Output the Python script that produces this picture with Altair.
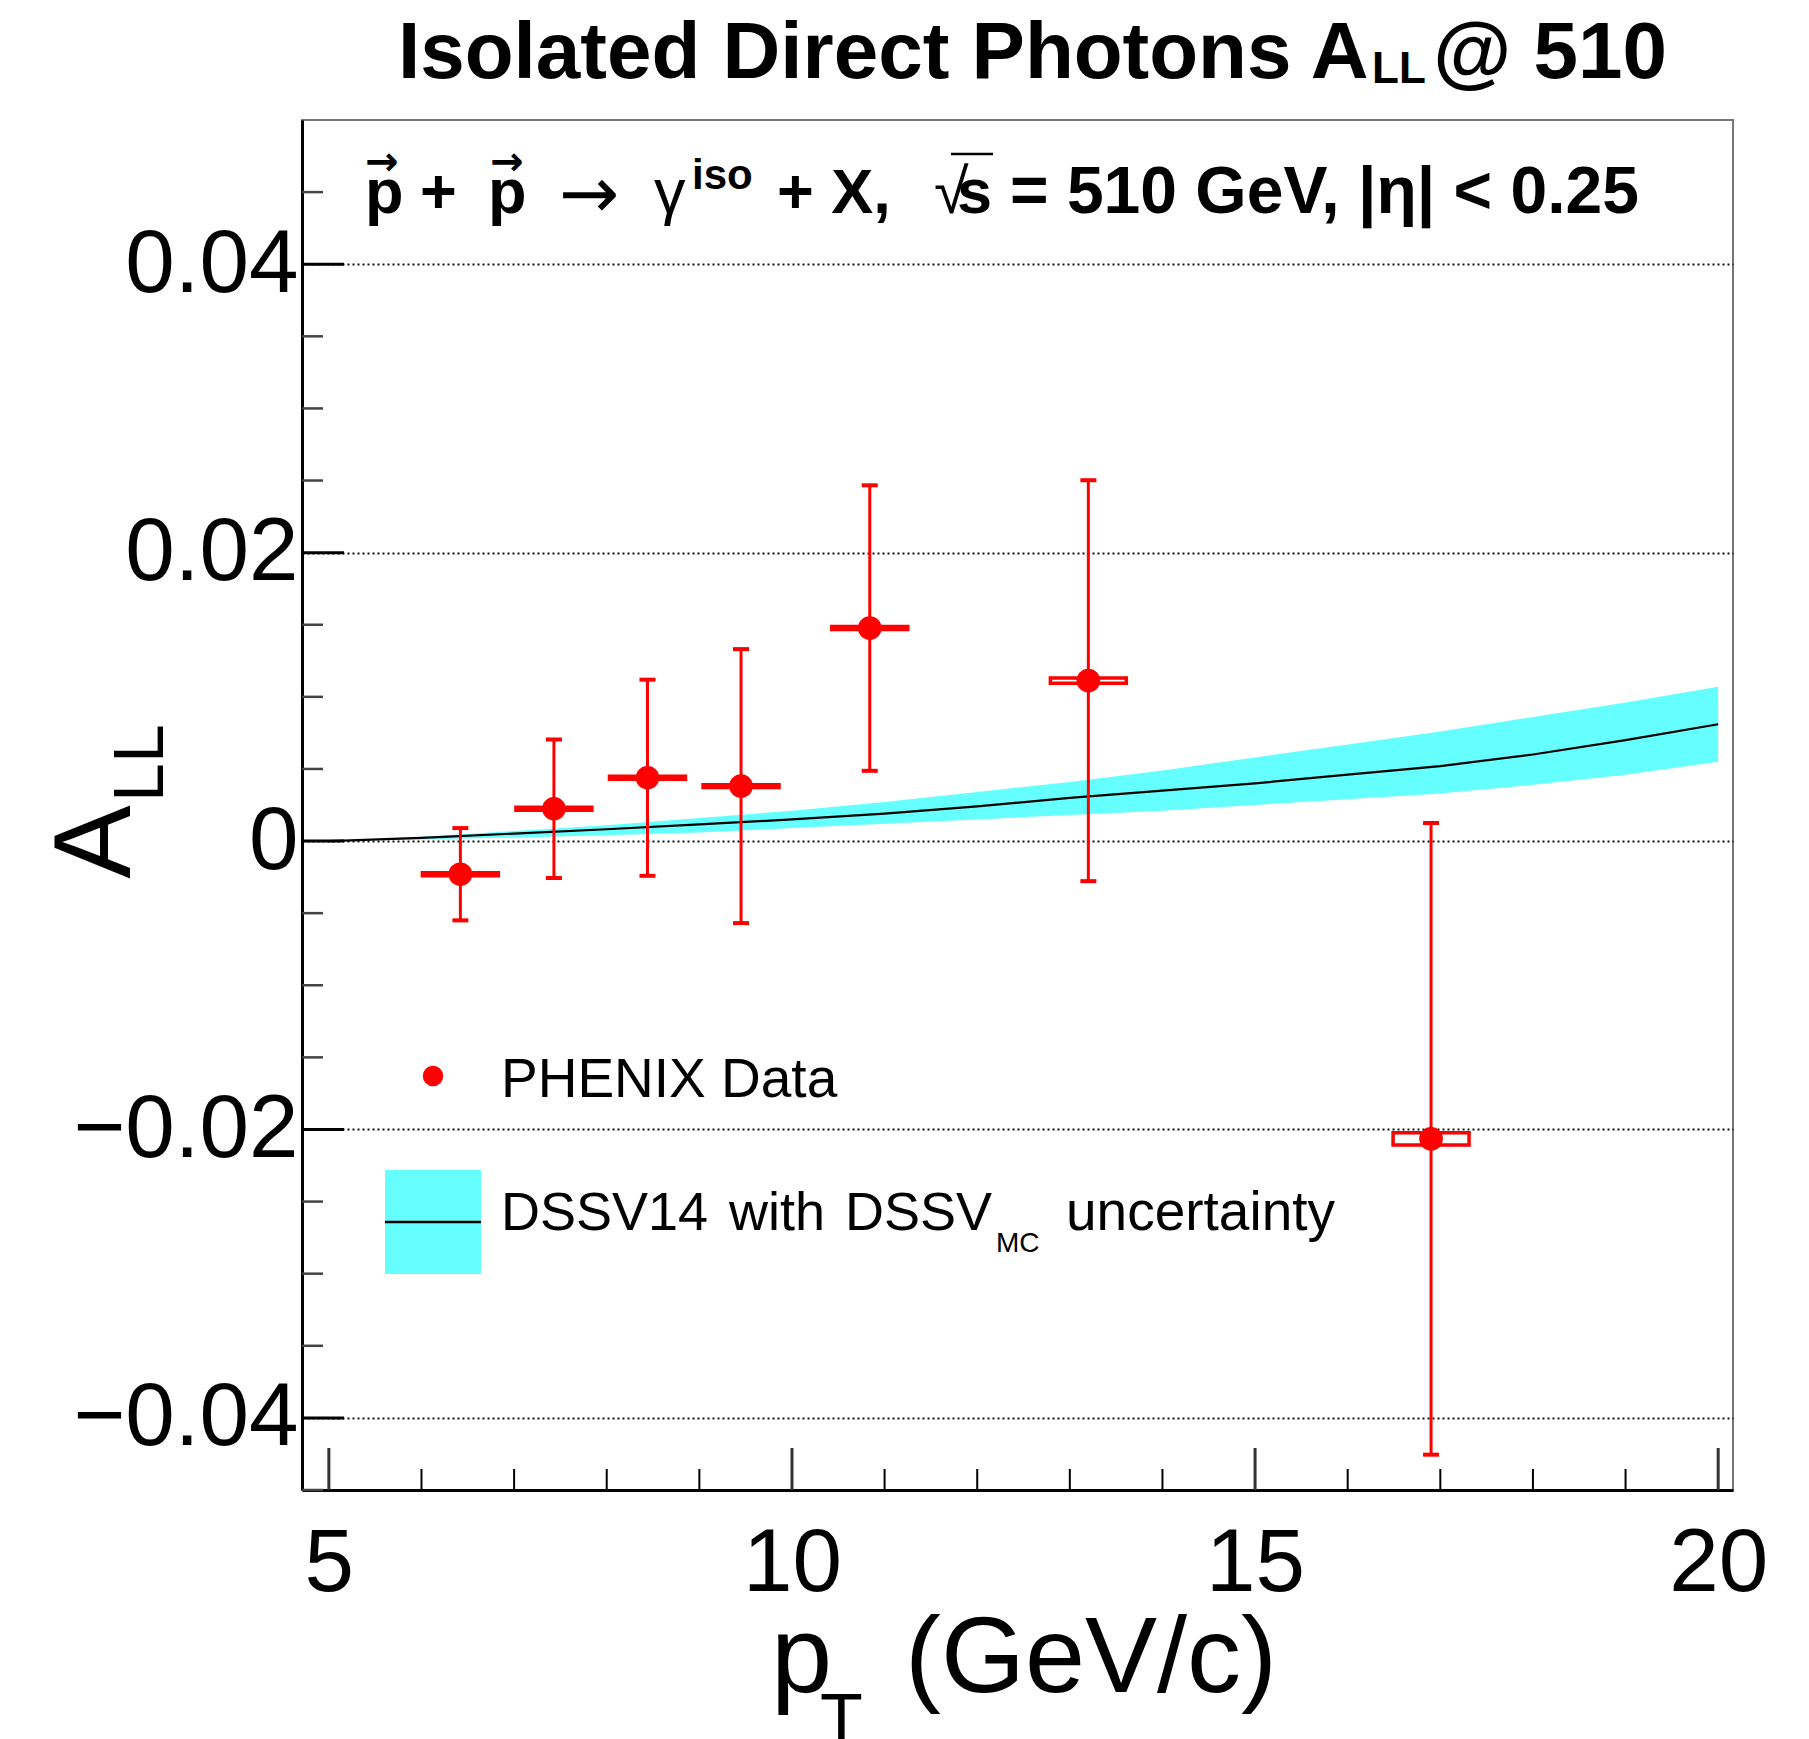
import altair as alt
import pandas as pd

# ---------------- data ----------------
pt = [6.42, 7.43, 8.44, 9.45, 10.84, 13.20, 16.90]
a_ll = [-0.0023, 0.00224, 0.00439, 0.00381, 0.01477, 0.01112, -0.02065]
stat_err = [0.0032, 0.0048, 0.0068, 0.0095, 0.0099, 0.0139, 0.0219]
syst_err = [0.0001, 0.0001, 0.0001, 0.0001, 0.0001, 0.00018, 0.00043]
bin_half = [0.41, 0.41, 0.41, 0.41, 0.41, 0.41, 0.41]

theory_pt = [5, 6, 7, 8, 9, 10, 11, 12, 13, 14, 15, 16, 17, 18, 19, 20]
theory_mid = [0.0, 0.00022, 0.00052, 0.00082, 0.00115, 0.0015, 0.0019, 0.0024,
              0.0030, 0.0035, 0.0040, 0.0046, 0.0052, 0.0060, 0.0070, 0.0081]
theory_lo = [0.0, 0.0001, 0.00025, 0.0004, 0.0006, 0.0009, 0.0012, 0.0015,
             0.0018, 0.0021, 0.0025, 0.0029, 0.0033, 0.0039, 0.0046, 0.0055]
theory_hi = [0.0, 0.0003, 0.0007, 0.0011, 0.0016, 0.0021, 0.0027, 0.0034,
             0.0041, 0.0049, 0.0058, 0.0067, 0.0076, 0.0086, 0.0096, 0.0107]

x_major = [5, 10, 15, 20]
x_minor = [6, 7, 8, 9, 11, 12, 13, 14, 16, 17, 18, 19]
y_major = [-0.04, -0.02, 0.0, 0.02, 0.04]
y_minor = [-0.045, -0.035, -0.03, -0.025, -0.015, -0.01, -0.005,
           0.005, 0.01, 0.015, 0.025, 0.03, 0.035, 0.045]

# ---------------- tables ----------------
pts = pd.DataFrame({"pt": pt, "all": a_ll, "stat": stat_err,
                    "syst": syst_err, "half": bin_half})
pts["lo"] = pts["all"] - pts["stat"]
pts["hi"] = pts["all"] + pts["stat"]
pts["s0"] = pts["all"] - pts["syst"]
pts["s1"] = pts["all"] + pts["syst"]
pts["x0"] = pts["pt"] - pts["half"]
pts["x1"] = pts["pt"] + pts["half"]

th = pd.DataFrame({"pt": theory_pt, "mid": theory_mid,
                   "lo": theory_lo, "hi": theory_hi})

W, H = 1431, 1370
FONT = "Liberation Sans"
RED = "#ff0000"

xs = alt.Scale(domain=[4.71, 20.16], nice=False, zero=False)
ys = alt.Scale(domain=[-0.045, 0.05], nice=False, zero=False)

X_AX = alt.Axis(values=x_major, format="d", tickSize=0, labelPadding=30,
                labelFontSize=89, labelFont=FONT, labelColor="black",
                domainColor="black", domainWidth=3, grid=False, title=None,
                labelFlush=False, labelOverlap=False, labelBound=False,
                labelLimit=600)
Y_AX = alt.Axis(values=y_major, format=".2~f", tickSize=0, labelPadding=4,
                labelFontSize=89, labelFont=FONT, labelColor="black",
                domainColor="black", domainWidth=3, grid=True,
                gridColor="#111111", gridDash=[2, 3], gridWidth=1.8,
                title=None, labelFlush=False, labelOverlap=False, labelBound=False,
                labelLimit=600)


def X(field):
    return alt.X(field, type="quantitative", scale=xs, axis=X_AX)


def Y(field):
    return alt.Y(field, type="quantitative", scale=ys, axis=Y_AX)


band = alt.Chart(th).mark_area(color="#66ffff", opacity=1).encode(
    x=X("pt"), y=Y("lo"), y2="hi")
line = alt.Chart(th).mark_line(color="black", strokeWidth=2.2).encode(
    x=X("pt"), y=Y("mid"))

boxes = alt.Chart(pts).mark_rect(fill="transparent", stroke=RED, strokeWidth=3.5).encode(
    x=X("x0"), x2="x1", y=Y("s0"), y2="s1")
bars = alt.Chart(pts).mark_rule(color=RED, strokeWidth=3).encode(
    x=X("pt"), y=Y("lo"), y2="hi")
cap_hi = alt.Chart(pts).mark_tick(orient="horizontal", size=16, thickness=4,
                                  color=RED, opacity=1).encode(x=X("pt"), y=Y("hi"))
cap_lo = alt.Chart(pts).mark_tick(orient="horizontal", size=16, thickness=4,
                                  color=RED, opacity=1).encode(x=X("pt"), y=Y("lo"))
dots = alt.Chart(pts).mark_circle(size=560, color=RED, opacity=1).encode(
    x=X("pt"), y=Y("all"))

# axis tick marks drawn inward (ROOT style)
xt_major = alt.Chart(pd.DataFrame({"v": x_major})).mark_rule(
    color="#333333", strokeWidth=3).encode(x=X("v"), y=alt.value(H), y2=alt.value(H - 42))
xt_minor = alt.Chart(pd.DataFrame({"v": x_minor})).mark_rule(
    color="black", strokeWidth=2).encode(x=X("v"), y=alt.value(H), y2=alt.value(H - 21))
yt_major = alt.Chart(pd.DataFrame({"v": y_major})).mark_rule(
    color="black", strokeWidth=3).encode(y=Y("v"), x=alt.value(0), x2=alt.value(42))
yt_minor = alt.Chart(pd.DataFrame({"v": y_minor})).mark_rule(
    color="#444444", strokeWidth=2.5).encode(y=Y("v"), x=alt.value(0), x2=alt.value(21))


def txt(s, x, y, size, weight="normal", align="left", angle=0,
        baseline="alphabetic", font=FONT):
    return alt.Chart(alt.Data(values=[{}])).mark_text(
        text=s, fontSize=size, fontWeight=weight, align=align, angle=angle,
        baseline=baseline, font=font, color="black").encode(
        x=alt.value(x), y=alt.value(y))


def one():
    return alt.Chart(alt.Data(values=[{}]))


texts = [
    # title
    txt("Isolated Direct Photons A", 96, -42, 80, "bold"),
    txt("LL", 1070, -37, 44, "bold"),
    txt("@ 510", 1365, -42, 80, "bold", align="right"),
    # process annotation
    txt("p", 63, 93, 63, "bold"),
    txt("\u2192", 80, 55, 40, "bold", align="center", font="DejaVu Sans"),
    txt("+", 118, 93, 63, "bold"),
    txt("p", 186, 93, 63, "bold"),
    txt("\u2192", 205, 55, 40, "bold", align="center", font="DejaVu Sans"),
    txt("\u2192", 257, 98, 72, font="DejaVu Sans"),
    txt("\u03b3", 352, 93, 63),
    txt("iso", 390, 69, 42, "bold"),
    txt("+ X,", 475, 93, 63, "bold"),
    txt("\u221a", 632, 93, 63),
    txt("s", 655, 93, 63, "bold"),
    txt("= 510 GeV, |\u03b7| < 0.25", 708, 93, 66, "bold"),
    # legend
    txt("PHENIX Data", 199, 977, 55),
    txt("DSSV14", 199, 1110, 54),
    txt("with", 427, 1110, 54),
    txt("DSSV", 543, 1110, 54),
    txt("MC", 694, 1132, 28),
    txt("uncertainty", 764, 1110, 55),
    # axis titles
    txt("A", -172, 722, 110, align="center", angle=270),
    txt("LL", -139, 682, 70, angle=270),
    txt("p", 469, 1572, 110),
    txt("T", 518, 1623, 70),
    txt("(GeV/c)", 603, 1572, 108),
]

overline = one().mark_rule(color="black", strokeWidth=2.5).encode(
    x=alt.value(649), x2=alt.value(691), y=alt.value(34))
leg_dot = one().mark_circle(size=420, color=RED, opacity=1).encode(
    x=alt.value(131), y=alt.value(956))
leg_box = one().mark_rect(color="#66ffff", opacity=1).encode(
    x=alt.value(83), x2=alt.value(179), y=alt.value(1050), y2=alt.value(1154))
leg_line = one().mark_rule(color="black", strokeWidth=2.5).encode(
    x=alt.value(83), x2=alt.value(179), y=alt.value(1102))

chart = alt.layer(
    band, line, boxes, bars, cap_hi, cap_lo, dots,
    xt_major, xt_minor, yt_major, yt_minor,
    overline, leg_box, leg_line, leg_dot, *texts
).properties(
    width=W, height=H,
    autosize=alt.AutoSizeParams(type="none"),
    padding={"left": 302, "top": 120, "right": 76, "bottom": 249},
    background="white",
).configure_view(stroke="#777777", strokeWidth=2)

chart.save("out.html", embed_options={"renderer": "svg", "actions": False})
